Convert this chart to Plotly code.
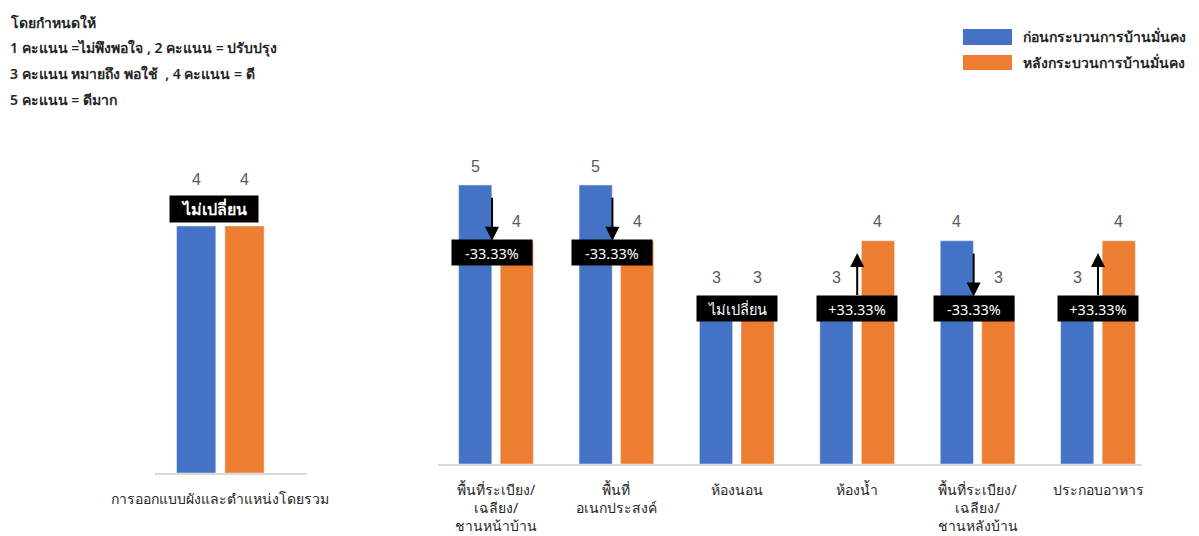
import plotly.graph_objects as go

# ---------------- data ----------------
overall_category = ["การออกแบบผังและตำแหน่งโดยรวม"]
overall_before = [4]
overall_after = [4]
overall_change = ["ไม่เปลี่ยน"]

categories = [
    "พื้นที่ระเบียง/<br>เฉลียง/<br>ชานหน้าบ้าน",
    "พื้นที่<br>อเนกประสงค์",
    "ห้องนอน",
    "ห้องน้ำ",
    "พื้นที่ระเบียง/<br>เฉลียง/<br>ชานหลังบ้าน",
    "ประกอบอาหาร",
]
before = [5, 5, 3, 3, 4, 3]
after = [4, 4, 3, 4, 3, 4]
change_labels = ["-33.33%", "-33.33%", "ไม่เปลี่ยน", "+33.33%", "-33.33%", "+33.33%"]

series_names = ["ก่อนกระบวนการบ้านมั่นคง", "หลังกระบวนการบ้านมั่นคง"]
header_lines = [
    "โดยกำหนดให้",
    "1 คะแนน =ไม่พึงพอใจ , 2 คะแนน = ปรับปรุง",
    "3 คะแนน หมายถึง พอใช้  , 4 คะแนน = ดี",
    "5 คะแนน = ดีมาก",
]

# ---------------- style ----------------
BLUE = "#4472C4"
ORANGE = "#ED7D31"
W, H = 1199, 536
OFF = 8  # page body margin
FONT = "Noto Sans, Liberation Sans, sans-serif"
BAR_W = 0.28
OFF_B = -0.31
OFF_O = 0.035


def px(x):
    return (x - OFF) / W


def py(y):
    return 1 - (y - OFF) / H


fig = go.Figure()

# left panel
xl = list(range(len(overall_category)))
fig.add_trace(go.Bar(x=xl, y=overall_before, name=series_names[0], marker_color=BLUE,
                     width=BAR_W, offset=OFF_B, xaxis="x", yaxis="y", showlegend=False))
fig.add_trace(go.Bar(x=xl, y=overall_after, name=series_names[1], marker_color=ORANGE,
                     width=BAR_W, offset=OFF_O, xaxis="x", yaxis="y", showlegend=False))
# right panel
xr = list(range(len(categories)))
fig.add_trace(go.Bar(x=xr, y=before, name=series_names[0], marker_color=BLUE,
                     width=0.275, offset=OFF_B, xaxis="x2", yaxis="y2", showlegend=False))
fig.add_trace(go.Bar(x=xr, y=after, name=series_names[1], marker_color=ORANGE,
                     width=0.275, offset=OFF_O, xaxis="x2", yaxis="y2", showlegend=False))

ann = []
shapes = []

# value labels
lab_font = dict(family="Liberation Sans, Arial", size=16, color="#595959")
for i, (b, a) in enumerate(zip(overall_before, overall_after)):
    ann.append(dict(x=i + OFF_B + BAR_W / 2, y=b, xref="x", yref="y", text=str(b), showarrow=False,
                    yshift=46, font=lab_font))
    ann.append(dict(x=i + OFF_O + BAR_W / 2, y=a, xref="x", yref="y", text=str(a), showarrow=False,
                    yshift=46, font=lab_font))
    ann.append(dict(x=i - 0.04, y=max(b, a), xref="x", yref="y", text=overall_change[i], showarrow=False,
                    yshift=17, bgcolor="black", width=84, height=22, borderpad=2,
                    font=dict(family=FONT, size=16, color="white", weight=600)))

for i, (b, a) in enumerate(zip(before, after)):
    ann.append(dict(x=i + OFF_B + 0.1375, y=b, xref="x2", yref="y2", text=str(b), showarrow=False,
                    yshift=19, font=lab_font))
    ann.append(dict(x=i + OFF_O + 0.1375, y=a, xref="x2", yref="y2", text=str(a), showarrow=False,
                    yshift=19, font=lab_font))
    dx = -0.033 if a < b else 0.0
    # arrow
    if a < b:
        ann.append(dict(x=i + dx, y=a, ax=i + dx, ay=a + 0.8, xref="x2", yref="y2",
                        axref="x2", ayref="y2", text="", showarrow=True, arrowhead=2,
                        arrowsize=1.4, arrowwidth=2, arrowcolor="black"))
    elif a > b:
        ann.append(dict(x=i + dx, y=b + 0.78, ax=i + dx, ay=b, xref="x2", yref="y2",
                        axref="x2", ayref="y2", text="", showarrow=True, arrowhead=2,
                        arrowsize=1.4, arrowwidth=2, arrowcolor="black"))
    # change box
    ann.append(dict(x=i + dx, y=min(a, b), xref="x2", yref="y2", text=change_labels[i],
                    showarrow=False, yshift=-12, bgcolor="black", width=76, height=21,
                    borderpad=2, font=dict(family=FONT, size=14.5, color="white")))

# header text
for k, line in enumerate(header_lines):
    ann.append(dict(x=px(8), y=py(22 + 25.7 * k), xref="paper", yref="paper",
                    xanchor="left", yanchor="middle", text=line, showarrow=False,
                    font=dict(family=FONT, size=14, color="#262626", weight=600)))

# manual legend
leg_y = [(29, 45), (55, 70)]
for (y0, y1), col, nm in zip(leg_y, [BLUE, ORANGE], series_names):
    shapes.append(dict(type="rect", xref="paper", yref="paper", x0=px(963), x1=px(1012),
                       y0=py(y1), y1=py(y0), fillcolor=col, line=dict(width=0)))
    ann.append(dict(x=px(1021), y=py((y0 + y1) / 2), xref="paper", yref="paper",
                    xanchor="left", yanchor="middle", text=nm, showarrow=False,
                    font=dict(family=FONT, size=14, color="#262626", weight=600)))

axis_common = dict(showgrid=False, zeroline=False, showline=True, linecolor="#D9D9D9",
                   linewidth=1.5, ticks="", ticklabelstandoff=12, automargin=False,
                   tickfont=dict(family=FONT, size=14, color="#262626"))

fig.update_layout(
    width=W, height=H, margin=dict(l=0, r=0, t=0, b=0, pad=0, autoexpand=False),
    paper_bgcolor="white", plot_bgcolor="white",
    barmode="overlay", showlegend=False,
    font=dict(family=FONT),
    xaxis=dict(domain=[px(155), px(307)], range=[(155 - 220) / 140, (307 - 220) / 140],
               tickvals=xl, ticktext=overall_category, anchor="y", **axis_common),
    yaxis=dict(domain=[py(473), py(473 - 5 * 61.75)], range=[0, 5], visible=False,
               anchor="x", automargin=False),
    xaxis2=dict(domain=[px(438), px(1142)], range=[(438 - 496) / 120.4, (1142 - 496) / 120.4],
                tickvals=xr, ticktext=categories, anchor="y2", **axis_common),
    yaxis2=dict(domain=[py(464), py(464 - 5.5 * 55.8)], range=[0, 5.5], visible=False,
                anchor="x2", automargin=False),
    annotations=ann, shapes=shapes,
)

fig.write_html("out.html")
